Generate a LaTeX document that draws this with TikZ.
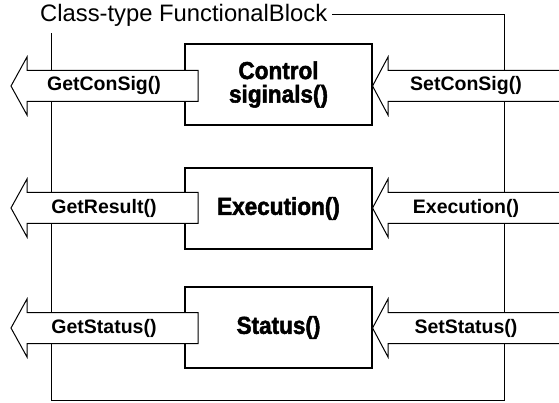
\documentclass[tikz,border=0pt]{standalone}
\usepackage{fontspec}
\setmainfont{Liberation Sans}
\newfontfamily\boxfont[FakeBold=2,FakeStretch=0.92]{Liberation Sans Bold}
\begin{document}
\begin{tikzpicture}[
    x=1pt, y=-1pt,
    frameline/.style={line width=1pt},
    funcbox/.style={draw, line width=1.1pt, minimum width=187pt, minimum height=81pt,
                    inner sep=0pt, align=center, font=\boxfont\fontsize{24.5}{23.5}\selectfont},
    sigarrow/.style={draw, fill=white, line width=1pt, line join=miter},
    arrowlabel/.style={inner sep=0pt, font=\bfseries\fontsize{19.5}{20}\selectfont},
  ]
  \useasboundingbox (0,0) rectangle (559,403);

  % class frame with its caption
  \node[anchor=west, inner sep=0pt, font=\fontsize{23.8}{24}\selectfont] (title) at (40,15)
    {Class-type FunctionalBlock};
  \coordinate (frameBR) at (504,400);
  \coordinate (frameBL) at (51,400);
  \coordinate (frameTL) at (51,33);
  \draw[frameline] ([xshift=5pt]title.east) -| (frameBR) -- (frameBL) -- (frameTL);

  % member functions
  \node[funcbox] (ctrl) at (278.5,84.5) {Control\\siginals()};
  \node[funcbox] (exec) at (278.5,208.5) {Execution()};
  \node[funcbox] (stat) at (278.5,327.5) {Status()};

  % getter (outgoing) and setter (incoming) arrows
  \foreach \c/\n/\gl/\sl in {86/ctrl/GetConSig()/SetConSig(),
                              208/exec/GetResult()/Execution(),
                              328/stat/GetStatus()/SetStatus()} {
    \draw[sigarrow] (198,\c-15.5) -- (27,\c-15.5) -- (27,\c-29) -- (11,\c)
                    -- (27,\c+29) -- (27,\c+15.5) -- (198,\c+15.5) -- cycle;
    \node[arrowlabel] (get-\n) at (104,\c) {\gl};
    \draw[sigarrow] (560,\c-15.5) -- (388,\c-15.5) -- (388,\c-29) -- (\n.east |- 0,\c)
                    -- (388,\c+29) -- (388,\c+15.5) -- (560,\c+15.5);
    \node[arrowlabel] (set-\n) at (466,\c) {\sl};
  }
\end{tikzpicture}
\end{document}
